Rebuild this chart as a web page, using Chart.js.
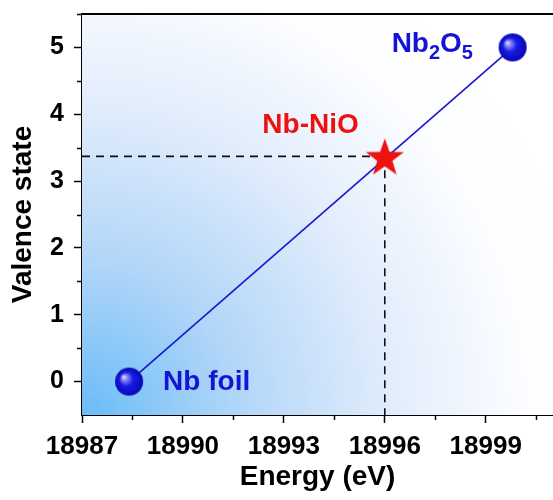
<!DOCTYPE html>
<html>
<head>
<meta charset="utf-8">
<script src="https://cdn.jsdelivr.net/npm/chart.js@4.4.1/dist/chart.umd.min.js"></script>
<style>
  html, body { margin: 0; padding: 0; background: #fff; }
  #wrap { width: 553px; height: 500px; }
</style>
</head>
<body>
<div id="wrap"><canvas id="valenceChart"></canvas></div>
<script>
// reference compounds (line end points) and the measured sample
const refNames = ['Nb foil', 'Nb2O5'];
const refEnergy = [18988.4, 18999.8];
const refValence = [0, 5];
const sampleName = 'Nb-NiO';
const sampleEnergy = 18996;
const sampleValence = 3.37;

const xTicks = [18987, 18990, 18993, 18996, 18999];
const yTicks = [0, 1, 2, 3, 4, 5];
const xRange = [18987, 19001];
const yRange = [-0.5, 5.5];

const FONT = '"Liberation Sans", Arial, sans-serif';
const BLUE = '#1414d6';
const RED = '#ee1111';

function makeSphere(r) {
  const c = document.createElement('canvas');
  c.width = c.height = r * 2 + 2;
  const g = c.getContext('2d');
  const m = r + 1;
  const grad = g.createRadialGradient(m - r * 0.4, m - r * 0.35, 0, m, m, r);
  grad.addColorStop(0, '#f0f0ff');
  grad.addColorStop(0.2, '#8a8af5');
  grad.addColorStop(0.5, '#1a1ae8');
  grad.addColorStop(1, '#0808b0');
  g.fillStyle = grad;
  g.beginPath();
  g.arc(m, m, r, 0, Math.PI * 2);
  g.fill();
  return c;
}

function makeStar(R, r) {
  const c = document.createElement('canvas');
  c.width = c.height = R * 2 + 2;
  const g = c.getContext('2d');
  const m = R + 1;
  g.fillStyle = RED;
  g.beginPath();
  for (let i = 0; i < 10; i++) {
    const rad = i % 2 === 0 ? R : r;
    const a = -Math.PI / 2 + i * Math.PI / 5;
    const px = m + rad * Math.cos(a), py = m + rad * Math.sin(a) + 2;
    if (i === 0) g.moveTo(px, py); else g.lineTo(px, py);
  }
  g.closePath();
  g.fill();
  return c;
}

const sphere = makeSphere(14);
const star = makeStar(20, 8);

// background gradient, frame, minor ticks, labels
const decor = {
  id: 'decor',
  beforeDatasetsDraw(chart) {
    const { ctx, chartArea: a } = chart;
    ctx.save();
    const grad = ctx.createRadialGradient(a.left, a.bottom, 0, a.left, a.bottom, 520);
    grad.addColorStop(0, 'rgb(105,188,248)');
    grad.addColorStop(0.3, 'rgb(178,214,248)');
    grad.addColorStop(0.6, 'rgb(226,237,252)');
    grad.addColorStop(0.85, 'rgb(252,253,255)');
    grad.addColorStop(1, '#ffffff');
    ctx.fillStyle = grad;
    ctx.fillRect(a.left, a.top, a.right - a.left, a.bottom - a.top);
    ctx.restore();
  },
  afterDraw(chart) {
    const { ctx, chartArea: a, scales } = chart;
    ctx.save();
    ctx.strokeStyle = '#000';
    ctx.lineWidth = 2;
    ctx.beginPath();
    ctx.moveTo(a.left - 1, a.top);
    ctx.lineTo(a.right, a.top);
    ctx.stroke();
    ctx.lineWidth = 1.5;
    ctx.beginPath();
    for (let i = 0; i < xTicks.length; i++) {
      const x = scales.x.getPixelForValue(xTicks[i] + 1.5);
      if (x > a.right) continue;
      ctx.moveTo(Math.round(x) + 0.5, a.bottom);
      ctx.lineTo(Math.round(x) + 0.5, a.bottom + 5);
    }
    for (let i = 0; i < yTicks.length; i++) {
      const y = scales.y.getPixelForValue(yTicks[i] + 0.5);
      ctx.moveTo(a.left, Math.round(y) + 0.5);
      ctx.lineTo(a.left - 5, Math.round(y) + 0.5);
    }
    ctx.stroke();

    // annotations
    const xs = scales.x, ys = scales.y;
    ctx.font = 'bold 28px ' + FONT;
    ctx.textBaseline = 'middle';
    ctx.fillStyle = BLUE;
    ctx.textAlign = 'left';
    ctx.fillText(refNames[0], xs.getPixelForValue(refEnergy[0]) + 34, ys.getPixelForValue(refValence[0]) + 1);

    ctx.fillStyle = RED;
    ctx.textAlign = 'right';
    ctx.fillText(sampleName, xs.getPixelForValue(sampleEnergy) - 26, ys.getPixelForValue(sampleValence) - 31);

    // Nb2O5 with subscripts
    ctx.fillStyle = BLUE;
    ctx.textAlign = 'left';
    let tx = xs.getPixelForValue(refEnergy[1]) - 121;
    const ty = ys.getPixelForValue(refValence[1]) - 3;
    const parts = [['Nb', 0], ['2', 1], ['O', 0], ['5', 1]];
    for (const [t, sub] of parts) {
      ctx.font = sub ? 'bold 20px ' + FONT : 'bold 28px ' + FONT;
      ctx.fillText(t, tx, sub ? ty + 9 : ty);
      tx += ctx.measureText(t).width;
    }
    ctx.restore();
  }
};

new Chart(document.getElementById('valenceChart'), {
  type: 'scatter',
  data: {
    datasets: [
      {
        label: sampleName,
        data: [{ x: sampleEnergy, y: sampleValence }],
        pointStyle: star,
        order: 0
      },
      {
        label: 'references',
        data: refEnergy.map((e, i) => ({ x: e, y: refValence[i] })),
        showLine: true,
        borderColor: '#1818d0',
        borderWidth: 1.6,
        pointStyle: sphere,
        order: 1
      },
      {
        label: 'h-guide',
        data: [{ x: xRange[0], y: sampleValence }, { x: sampleEnergy, y: sampleValence }],
        showLine: true,
        borderColor: '#111',
        borderWidth: 1.6,
        borderDash: [8, 6],
        pointRadius: 0,
        order: 2
      },
      {
        label: 'v-guide',
        data: [{ x: sampleEnergy, y: sampleValence }, { x: sampleEnergy, y: yRange[0] }],
        showLine: true,
        borderColor: '#111',
        borderWidth: 1.6,
        borderDash: [8, 6],
        pointRadius: 0,
        order: 2
      }
    ]
  },
  options: {
    responsive: true,
    maintainAspectRatio: false,
    animation: false,
    layout: { autoPadding: false, padding: { top: 14, right: 0, left: 0, bottom: 0 } },
    plugins: { legend: { display: false }, tooltip: { enabled: false } },
    scales: {
      x: {
        type: 'linear',
        min: xRange[0],
        max: xRange[1],
        afterBuildTicks: s => { s.ticks = xTicks.map(v => ({ value: v })); },
        afterFit: s => { s.height = 85; s.paddingLeft = 0; s.paddingRight = 0; },
        grid: { drawOnChartArea: false, tickLength: 8, tickColor: '#000', tickWidth: 1.5 },
        border: { color: '#000', width: 2 },
        ticks: {
          color: '#000',
          padding: 8,
          maxRotation: 0,
          font: { family: FONT, size: 26, weight: 'bold' },
          callback: v => String(v)
        },
        title: {
          display: true,
          text: 'Energy (eV)',
          color: '#000',
          font: { family: FONT, size: 28, weight: 'bold', lineHeight: 1.2 },
          padding: { top: 0, bottom: 6 }
        }
      },
      y: {
        type: 'linear',
        min: yRange[0],
        max: yRange[1],
        afterBuildTicks: s => { s.ticks = yTicks.map(v => ({ value: v })); },
        afterFit: s => { s.width = 82; s.paddingTop = 0; s.paddingBottom = 0; },
        grid: { drawOnChartArea: false, tickLength: 8, tickColor: '#000', tickWidth: 1.5 },
        border: { color: '#000', width: 2 },
        ticks: {
          color: '#000',
          padding: 10,
          font: { family: FONT, size: 25, weight: 'bold' }
        },
        title: {
          display: true,
          text: 'Valence state',
          color: '#000',
          font: { family: FONT, size: 28, weight: 'bold', lineHeight: 1.2 },
          padding: { top: 6, bottom: 0 }
        }
      }
    }
  },
  plugins: [decor]
});
</script>
</body>
</html>
